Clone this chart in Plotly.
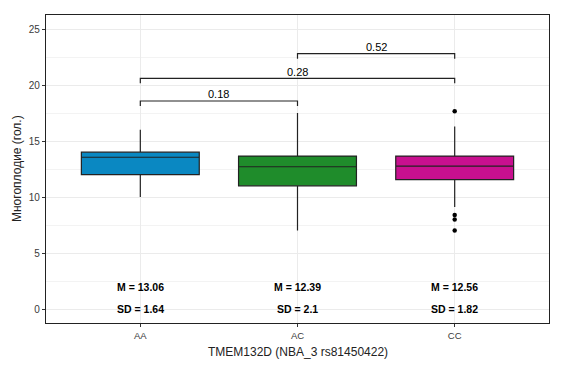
import plotly.graph_objects as go

categories = ["AA", "AC", "CC"]
colors = ["#0a88c2", "#1f8c2b", "#c8108f"]
q1 = [12.0, 11.0, 11.55]
median = [13.55, 12.7, 12.75]
q3 = [14.0, 13.65, 13.65]
lower = [10.0, 7.0, 9.1]
upper = [16.0, 17.5, 16.3]
outlier_cat = ["CC", "CC", "CC", "CC"]
outlier_val = [17.65, 8.4, 8.0, 7.0]
mean_labels = ["M = 13.06", "M = 12.39", "M = 12.56"]
sd_labels = ["SD = 1.64", "SD = 2.1", "SD = 1.82"]
pairs = [(0, 1), (0, 2), (1, 2)]
p_values = ["0.18", "0.28", "0.52"]
bracket_y = [18.57, 20.6, 22.8]
tip = 0.45

FONT = "Liberation Sans, Arial, sans-serif"

fig = go.Figure()
for i, c in enumerate(categories):
    fig.add_trace(go.Box(
        x=[c], q1=[q1[i]], median=[median[i]], q3=[q3[i]],
        lowerfence=[lower[i]], upperfence=[upper[i]],
        fillcolor=colors[i], line=dict(color="#222222", width=1.2),
        width=0.75, whiskerwidth=0, boxpoints=False, showlegend=False, hoverinfo="skip"))

fig.add_trace(go.Scatter(x=outlier_cat, y=outlier_val, mode="markers",
                         marker=dict(color="black", size=4.5), showlegend=False))

for (a, b), yv in zip(pairs, bracket_y):
    fig.add_trace(go.Scatter(
        x=[categories[a], categories[a], categories[b], categories[b]],
        y=[yv - tip, yv, yv, yv - tip], mode="lines",
        line=dict(color="#222222", width=1.2), showlegend=False, hoverinfo="skip"))

annotations = []
for (a, b), yv, p in zip(pairs, bracket_y, p_values):
    annotations.append(dict(x=(a + b) / 2, y=yv + 0.6, text=p, showarrow=False,
                            xref="x", yref="y", yanchor="middle",
                            font=dict(family=FONT, size=11, color="black")))
for i in range(3):
    annotations.append(dict(x=i, y=2, text="<b>" + mean_labels[i] + "</b>", showarrow=False,
                            font=dict(family=FONT, size=10.5, color="black")))
    annotations.append(dict(x=i, y=0, text="<b>" + sd_labels[i] + "</b>", showarrow=False,
                            font=dict(family=FONT, size=10.5, color="black")))

# axis titles
annotations.append(dict(x=0.5, xref="paper", y=0, yref="paper", yanchor="middle", yshift=-29,
                        text="TMEM132D (NBA_3 rs81450422)", showarrow=False,
                        font=dict(family=FONT, size=12, color="#222222")))
annotations.append(dict(x=0, xref="paper", y=0.5, yref="paper", xshift=-29,
                        text="Многоплодие (гол.)", showarrow=False, textangle=-90,
                        xanchor="center", yanchor="middle",
                        font=dict(family=FONT, size=12, color="#222222")))

fig.update_layout(
    width=557, height=358,
    margin=dict(l=38, r=16, t=7, b=43),
    paper_bgcolor="white", plot_bgcolor="white",
    annotations=annotations,
    font=dict(family=FONT),
    xaxis=dict(
        type="category", categoryorder="array", categoryarray=categories,
        range=[-0.6, 2.6], showgrid=True, gridcolor="#ebebeb", gridwidth=1,
        ticks="outside", ticklen=3, tickcolor="#333333",
        tickfont=dict(size=9.5, color="#3a3a3a", family=FONT),
        showline=True, linecolor="#222222", linewidth=1.2, mirror=True, zeroline=False,
        automargin=False),
    yaxis=dict(
        range=[-1.25, 26.25], tickmode="array", tickvals=[0, 5, 10, 15, 20, 25],
        showgrid=True, gridcolor="#ebebeb", gridwidth=1,
        minor=dict(tickmode="array", tickvals=[2.5, 7.5, 12.5, 17.5, 22.5],
                   showgrid=True, gridcolor="#f3f3f3", gridwidth=0.6, ticks=""),
        ticks="outside", ticklen=3, tickcolor="#333333",
        tickfont=dict(size=10, color="#3a3a3a", family=FONT),
        showline=True, linecolor="#222222", linewidth=1.2, mirror=True, zeroline=False,
        automargin=False),
)

fig.write_html("out.html")
